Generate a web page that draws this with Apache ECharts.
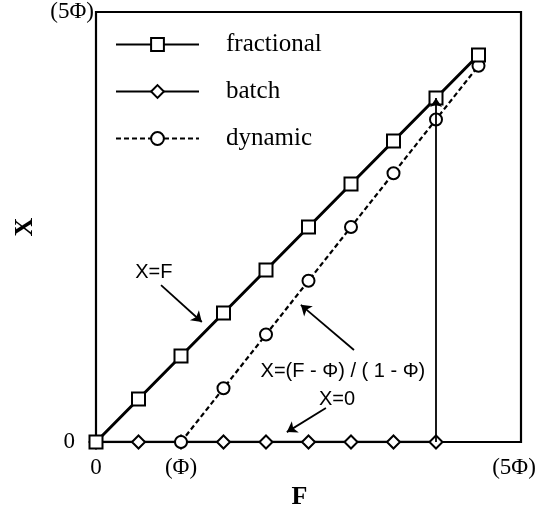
<!DOCTYPE html>
<html><head><meta charset="utf-8">
<script src="https://cdn.jsdelivr.net/npm/echarts@6/dist/echarts.min.js"></script>
<style>html,body{margin:0;padding:0;background:#fff}#c{width:545px;height:508px}</style>
</head><body><div id="c"></div>
<script>
const seriesNames = ['fractional', 'batch', 'dynamic'];
const fractionalF = [0, 1, 2, 3, 4, 5, 6, 7, 8, 9];
const fractionalX = [0, 1, 2, 3, 4, 5, 6, 7, 8, 9];
const batchF = [0, 1, 2, 3, 4, 5, 6, 7, 8];
const batchX = [0, 0, 0, 0, 0, 0, 0, 0, 0];
const dynamicF = [2, 3, 4, 5, 6, 7, 8, 9];
const dynamicX = [0, 1.25, 2.5, 3.75, 5, 6.25, 7.5, 8.75];
const xTickLabels = {0: '0', 2: '(Φ)', 10: '(5Φ)'};
const yTickLabels = {0: '0', 10: '(5Φ)'};
const batchEndArrow = [[8, 0], [8, 8]];
const annotationTexts = ['X=F', 'X=(F - Φ) / ( 1 - Φ)', 'X=0'];
const annotationAt = [[1.36, 3.95], [5.81, 1.63], [5.67, 0.98]];
const annotationArrows = [
  [[1.53, 3.65], [2.49, 2.79]],
  [[6.07, 2.14], [4.82, 3.19]],
  [[5.41, 0.79], [4.49, 0.23]]
];

const zip = (a, b) => a.map((v, i) => [v, b[i]]);
const serif = 'Liberation Serif';
const sans = 'Liberation Sans';

const chart = echarts.init(document.getElementById('c'), null, {renderer: 'canvas'});
chart.setOption({
  animation: false,
  backgroundColor: '#fff',
  grid: {left: 96, right: 24, top: 12, bottom: 66, show: true, borderColor: '#000', borderWidth: 2.2,
         containLabel: false, outerBoundsMode: 'none'},
  legend: {
    data: seriesNames,
    orient: 'vertical',
    left: 110, top: 27,
    itemWidth: 83, itemHeight: 16, itemGap: 22,
    textStyle: {fontFamily: serif, fontSize: 25, color: '#000', padding: [0, 0, 0, 22]}
  },
  xAxis: {
    type: 'value', min: 0, max: 10, interval: 2,
    axisLine: {show: false}, axisTick: {show: false}, splitLine: {show: false},
    axisLabel: {
      margin: 14, fontFamily: serif, fontSize: 23, color: '#000',
      formatter: v => xTickLabels[v] === undefined ? '' : (v === 10 ? '{e|' + xTickLabels[v] + '}' : xTickLabels[v]),
      rich: {e: {fontFamily: serif, fontSize: 23, color: '#000', padding: [0, 14, 0, 0]}}
    },
    name: 'F', nameLocation: 'middle', nameGap: 40,
    nameTextStyle: {fontFamily: serif, fontSize: 26, fontWeight: 'bold', color: '#000', padding: [0, 18, 0, 0]}
  },
  yAxis: {
    type: 'value', min: 0, max: 10, interval: 10,
    axisLine: {show: false}, axisTick: {show: false}, splitLine: {show: false},
    axisLabel: {
      margin: 2, fontFamily: serif, fontSize: 23, color: '#000',
      formatter: v => v === 0 ? '{z|' + yTickLabels[0] + '}' : (yTickLabels[v] || ''),
      rich: {z: {fontFamily: serif, fontSize: 23, color: '#000', padding: [0, 19, 0, 0]}}
    },
    name: 'X', nameLocation: 'middle', nameGap: 58,
    nameTextStyle: {fontFamily: serif, fontSize: 26, fontWeight: 'bold', color: '#000'}
  },
  series: [
    {
      name: 'fractional', type: 'line', z: 4,
      data: zip(fractionalF, fractionalX),
      symbol: 'emptyRect', symbolSize: 13,
      lineStyle: {color: '#000', width: 3},
      itemStyle: {color: '#000', borderWidth: 2.2},
      markPoint: {
        silent: true, symbol: 'circle', symbolSize: 0,
        label: {show: true, position: 'inside', fontFamily: sans, fontSize: 20, color: '#000', formatter: p => p.name},
        data: annotationTexts.map((t, i) => ({name: t, coord: annotationAt[i]}))
      },
      markLine: {
        silent: true, symbol: ['none', 'arrow'], symbolSize: 10,
        label: {show: false},
        lineStyle: {color: '#000', width: 1.8, type: 'solid'},
        data: annotationArrows.map(a => [{coord: a[0]}, {coord: a[1]}])
      }
    },
    {
      name: 'batch', type: 'line', z: 3,
      data: zip(batchF, batchX),
      symbol: 'emptyDiamond', symbolSize: [13, 13],
      lineStyle: {color: '#000', width: 2.5},
      itemStyle: {color: '#000', borderWidth: 3},
      markLine: {
        silent: true, symbol: ['none', 'arrow'], symbolSize: 9,
        label: {show: false},
        lineStyle: {color: '#000', width: 1.8, type: 'solid'},
        data: [[{coord: batchEndArrow[0]}, {coord: batchEndArrow[1]}]]
      }
    },
    {
      name: 'dynamic', type: 'line', z: 3,
      data: zip(dynamicF, dynamicX),
      symbol: 'emptyCircle', symbolSize: 12,
      lineStyle: {color: '#000', width: 2.2, type: [5, 3]},
      itemStyle: {color: '#000', borderWidth: 2.2}
    }
  ]
});
</script>
</body></html>
